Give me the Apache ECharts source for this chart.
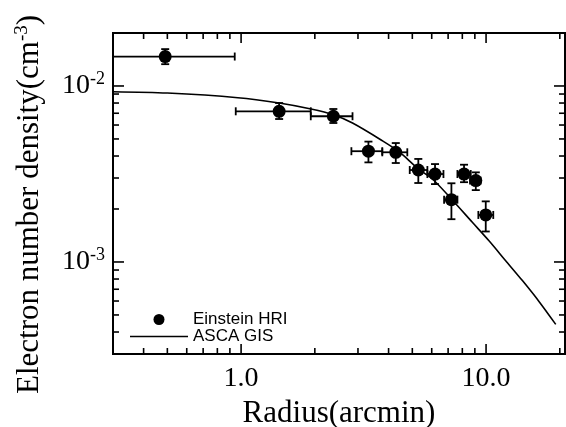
<!DOCTYPE html>
<html>
<head>
<meta charset="utf-8">
<script src="https://cdn.jsdelivr.net/npm/echarts@6/dist/echarts.min.js"></script>
<style>
html, body { margin: 0; padding: 0; background: #fff; }
#chart { width: 566px; height: 427px; }
</style>
</head>
<body>
<div id="chart"></div>
<script>
// Einstein HRI: radius (arcmin), electron density (cm^-3) and error bar ends
var hriRadius    = [0.49, 1.43, 2.38, 3.31, 4.28, 5.29, 6.19, 7.22, 8.13, 9.08, 9.97];
var hriDensity   = [1.47e-2, 7.18e-3, 6.73e-3, 4.26e-3, 4.2e-3, 3.33e-3, 3.16e-3, 2.26e-3, 3.16e-3, 2.9e-3, 1.85e-3];
var hriRadiusLo  = [0.3, 0.951, 1.925, 2.82, 3.77, 4.88, 5.76, 6.74, 7.64, 8.6, 9.3];
var hriRadiusHi  = [0.942, 1.925, 2.85, 3.77, 4.77, 5.76, 6.70, 7.64, 8.66, 9.5, 10.7];
var hriDensityLo = [1.33e-2, 6.49e-3, 6.16e-3, 3.68e-3, 3.65e-3, 2.81e-3, 2.77e-3, 1.75e-3, 2.84e-3, 2.56e-3, 1.49e-3];
var hriDensityHi = [1.62e-2, 8.0e-3, 7.4e-3, 4.83e-3, 4.74e-3, 3.85e-3, 3.6e-3, 2.8e-3, 3.57e-3, 3.23e-3, 2.21e-3];

// ASCA GIS model curve
var gisRadius  = [0.3, 0.5, 0.97, 1.43, 1.93, 2.38, 2.85, 3.77, 4.41, 5.29, 6.04, 7.22, 8.79, 10.3, 12.0, 14.1, 16.5, 19.25];
var gisDensity = [9.28e-3, 9.12e-3, 8.58e-3, 8.0e-3, 7.4e-3, 6.87e-3, 6.16e-3, 4.89e-3, 4.23e-3, 3.38e-3, 2.96e-3, 2.28e-3, 1.68e-3, 1.315e-3, 1.02e-3, 7.81e-4, 5.93e-4, 4.42e-4];

// axis ranges and tick values
var xMin = 0.3, xMax = 21;
var yMin = 3e-4, yMax = 2e-2;
var xMajorTicks = [1, 10];
var xMinorTicks = [0.4, 0.5, 0.6, 0.7, 0.8, 0.9, 2, 3, 4, 5, 6, 7, 8, 9, 20];
var yMajorTicks = [1e-3, 1e-2];
var yMinorTicks = [4e-4, 5e-4, 6e-4, 7e-4, 8e-4, 9e-4, 2e-3, 3e-3, 4e-3, 5e-3, 6e-3, 7e-3, 8e-3, 9e-3];

var serif = 'Liberation Serif, Times New Roman, serif';
var sans = 'Liberation Sans, Arial, sans-serif';

var chart = echarts.init(document.getElementById('chart'));

function isDecade(v) {
    var e = Math.log10(v);
    return Math.abs(e - Math.round(e)) < 1e-6;
}

// tick data: [x, y, axis(0 = x, 1 = y), length]
var tickData = [];
xMajorTicks.forEach(function(v) { tickData.push([v, yMin, 0, 10]) });
xMinorTicks.forEach(function(v) { tickData.push([v, yMin, 0, 6]) });
yMajorTicks.forEach(function(v) { tickData.push([xMin, v, 1, 11]) });
yMinorTicks.forEach(function(v) { tickData.push([xMin, v, 1, 6]) });

var errData = hriRadius.map(function(r, i) {
    return [r, hriDensity[i], hriRadiusLo[i], hriRadiusHi[i], hriDensityLo[i], hriDensityHi[i]];
});

function line(x1, y1, x2, y2, w) {
    return {type: 'line', shape: {x1: x1, y1: y1, x2: x2, y2: y2}, style: {stroke: '#000', lineWidth: w || 1.6}};
}

function renderTick(params, api) {
    var cs = params.coordSys, len = api.value(3);
    var p = api.coord([api.value(0), api.value(1)]);
    if (api.value(2) === 0) {
        var bottom = cs.y + cs.height;
        return {type: 'group', children: [line(p[0], bottom, p[0], bottom - len), line(p[0], cs.y, p[0], cs.y + len)]};
    }
    var right = cs.x + cs.width;
    return {type: 'group', children: [line(cs.x, p[1], cs.x + len, p[1]), line(right, p[1], right - len, p[1])]};
}

function renderErr(params, api) {
    var c = api.coord([api.value(0), api.value(1)]);
    var l = api.coord([api.value(2), api.value(1)]);
    var r = api.coord([api.value(3), api.value(1)]);
    var b = api.coord([api.value(0), api.value(4)]);
    var t = api.coord([api.value(0), api.value(5)]);
    var h = 4;
    return {type: 'group', children: [
        line(l[0], c[1], r[0], c[1], 1.8),
        line(l[0], c[1] - h, l[0], c[1] + h, 1.8),
        line(r[0], c[1] - h, r[0], c[1] + h, 1.8),
        line(c[0], b[1], c[0], t[1], 1.8),
        line(c[0] - h, b[1], c[0] + h, b[1], 1.8),
        line(c[0] - h, t[1], c[0] + h, t[1], 1.8)
    ]};
}

var option = {
    animation: false,
    backgroundColor: '#fff',
    grid: {left: 113, top: 33, width: 452, height: 321, containLabel: false, outerBoundsMode: 'none',
        show: true, borderColor: '#000', borderWidth: 2, backgroundColor: 'transparent'},
    legend: {
        orient: 'vertical', left: 130, top: 311, padding: 0, itemWidth: 58, itemHeight: 11, itemGap: 0,
        textStyle: {fontFamily: sans, fontSize: 17, color: '#000', lineHeight: 17},
        data: [
            {name: 'Einstein HRI', icon: 'circle', itemStyle: {color: '#000', opacity: 1}},
            {name: 'ASCA GIS', icon: 'path://M0,0 L58,0 L58,1.6 L0,1.6 Z', itemStyle: {color: '#000'}}
        ]
    },
    xAxis: {
        type: 'log', logBase: 10, min: xMin, max: xMax,
        axisLine: {show: false}, axisTick: {show: false}, splitLine: {show: false},
        axisLabel: {margin: 11, color: '#000', fontFamily: serif, fontSize: 28,
            formatter: function(v) { return isDecade(v) ? v.toFixed(1) : '' }},
        name: 'Radius(arcmin)', nameLocation: 'middle', nameGap: 35,
        nameTextStyle: {color: '#000', fontFamily: serif, fontSize: 31}
    },
    yAxis: {
        type: 'log', logBase: 10, min: yMin, max: yMax,
        axisLine: {show: false}, axisTick: {show: false}, splitLine: {show: false},
        axisLabel: {margin: 8, color: '#000',
            formatter: function(v) { return isDecade(v) ? '{n|10}{s|' + Math.round(Math.log10(v)) + '}' : '' },
            rich: {
                n: {fontFamily: serif, fontSize: 28, color: '#000', lineHeight: 32},
                s: {fontFamily: serif, fontSize: 18, color: '#000', lineHeight: 18, verticalAlign: 'top'}
            }},
        name: '{t|Electron number density(cm}{s|-3}{t|)}', nameLocation: 'middle', nameGap: 66, nameRotate: 90,
        nameTextStyle: {
            padding: [0, 22, 0, 0],
            rich: {
                t: {fontFamily: serif, fontSize: 31, color: '#000', lineHeight: 34},
                s: {fontFamily: serif, fontSize: 19, color: '#000', lineHeight: 19, verticalAlign: 'top'}
            }
        }
    },
    series: [
        {name: 'ticks', type: 'custom', renderItem: renderTick, data: tickData, clip: false, silent: true, z: 5},
        {name: 'errors', type: 'custom', renderItem: renderErr, data: errData, clip: true, silent: true, z: 3},
        {name: 'Einstein HRI', type: 'scatter', symbol: 'circle', symbolSize: 13,
            itemStyle: {color: '#000', opacity: 1}, data: hriRadius.map(function(r, i) { return [r, hriDensity[i]] }), z: 4},
        {name: 'ASCA GIS', type: 'line', symbol: 'none', smooth: 0.3,
            lineStyle: {color: '#000', width: 1.6}, itemStyle: {color: '#000'},
            data: gisRadius.map(function(r, i) { return [r, gisDensity[i]] }), z: 2}
    ]
};

chart.setOption(option);
</script>
</body>
</html>
